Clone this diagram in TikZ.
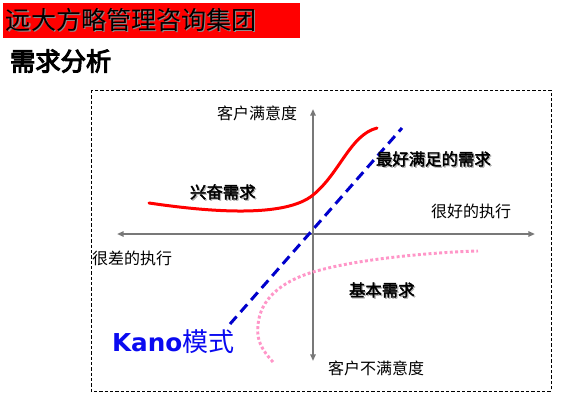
\documentclass[tikz,border=0pt]{standalone}
\usepackage{fontspec}
\newfontfamily\cjk{Noto Sans CJK SC}
\newfontfamily\cjkb{Noto Sans CJK SC}[FakeBold=2.5]
\newfontfamily\cjkbb{Noto Sans CJK SC}[FakeBold=4]
\newfontfamily\latb{DejaVu Sans}
\usetikzlibrary{arrows.meta}
\definecolor{axisgray}{RGB}{120,120,120}
\definecolor{kblue}{RGB}{0,0,204}
\definecolor{kpink}{RGB}{255,150,200}
\definecolor{kano}{RGB}{10,10,240}
\begin{document}
\begin{tikzpicture}[x=0.75pt,y=-0.75pt,
  every node/.style={inner sep=0pt,outer sep=0pt,anchor=west},
  axislabel/.style={font=\cjk\fontsize{12}{12}\selectfont},
  boldlabel/.style={font=\cjkb\fontsize{12.3}{12.3}\selectfont},
  shadowlabel/.style={boldlabel,text=black!30},
  axis/.style={draw=axisgray,line width=1.5pt,{Triangle[length=5pt,width=4pt]}-{Triangle[length=5pt,width=4pt]}},
  frame/.style={draw=black,line width=0.75pt,dash pattern=on 2.5pt off 1.5pt},
]
\useasboundingbox (0,0) rectangle (575,397);
% banner
\fill[red] (3,3) rectangle (300,38);
\node[font=\cjk\fontsize{18.8}{18.8}\selectfont,text=black!45] (bannershadow) at (7.2,21.2) {远大方略管理咨询集团};
\node[font=\cjk\fontsize{18.8}{18.8}\selectfont] (banner) at (6,20) {远大方略管理咨询集团};
% title
\node[font=\cjkbb\fontsize{19}{19}\selectfont] (title) at (10,61) {需求分析};
% frame
\draw[frame] (91,90) rectangle (551,391);
% axes
\coordinate (xl) at (117,234);
\coordinate (xr) at (535,234);
\coordinate (yt) at (313,109);
\coordinate (yb) at (313,361);
\draw[axis] (xl) -- (xr);
\draw[axis] (yt) -- (yb);
% axis labels
\node[axislabel] (sat) at (217,113) {客户满意度};
\node[axislabel] (good) at (431,211) {很好的执行};
\node[axislabel] (bad) at (92,258) {很差的执行};
\node[axislabel] (unsat) at (328,368) {客户不满意度};
% red curve (excitement)
\coordinate (r0) at (149,203);
\coordinate (r1) at (313,195);
\coordinate (r2) at (377,128);
\draw[red,line width=2.25pt,line cap=round] (r0) .. controls (210,212) and (285,218) .. (r1) .. controls (340,173) and (350,135) .. (r2);
% blue dashed line (performance)
\coordinate (b0) at (230,324);
\coordinate (b1) at (402,128);
\draw[kblue,line width=2.25pt,dash pattern=on 7.5pt off 4.5pt] (b0) -- (b1);
% pink dotted (basic)
\coordinate (p0) at (273,362);
\coordinate (p1) at (258,325);
\coordinate (p2) at (313,272);
\coordinate (p3) at (478,251);
\draw[kpink,line width=2.2pt,dash pattern=on 2.2pt off 1.8pt] (p0) .. controls (262,350) and (256,340) .. (p1) .. controls (260,300) and (280,282) .. (p2) .. controls (360,258) and (440,252) .. (p3);
% bold labels with shadow
\node[shadowlabel] (exs) at (191.2,193.2) {兴奋需求};
\node[boldlabel] (ex) at (190,192) {兴奋需求};
\node[shadowlabel] (perfs) at (377.2,160.2) {最好满足的需求};
\node[boldlabel] (perf) at (376,159) {最好满足的需求};
\node[shadowlabel] (basics) at (350.2,291.2) {基本需求};
\node[boldlabel] (basic) at (349,290) {基本需求};
% Kano
\node[text=kano] (kano) at (112,342) {{\latb\bfseries\fontsize{18.5}{18.5}\selectfont Kano}{\cjk\fontsize{19.5}{19.5}\selectfont 模式}};
\end{tikzpicture}
\end{document}
